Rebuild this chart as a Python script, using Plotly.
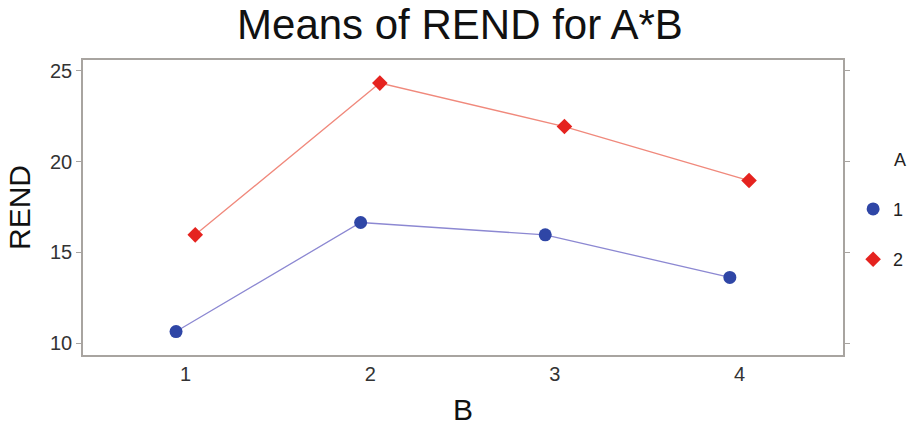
import plotly.graph_objects as go

# Data
B_levels = [1, 2, 3, 4]
A_levels = ["1", "2"]
rend_A1 = [10.65, 16.65, 15.97, 13.63]
rend_A2 = [15.97, 24.32, 21.93, 18.96]
y_ticks = [10, 15, 20, 25]

DODGE = 0.052
FONT = "Liberation Sans, Arial, sans-serif"

series = [
    dict(name=A_levels[0], y=rend_A1, off=-DODGE, mcolor="#2f46a6", lcolor="#8c88d2",
         symbol="circle", size=13, group="g1"),
    dict(name=A_levels[1], y=rend_A2, off=DODGE, mcolor="#e5231f", lcolor="#f0897c",
         symbol="diamond", size=12, group="g2"),
]

fig = go.Figure()
for s in series:
    xs = [b + s["off"] for b in B_levels]
    fig.add_trace(go.Scatter(
        x=xs, y=s["y"], mode="lines", line=dict(color=s["lcolor"], width=1.3),
        showlegend=False, hoverinfo="skip"))
    fig.add_trace(go.Scatter(
        x=xs, y=s["y"], mode="markers", name=s["name"], legendgroup=s["group"],
        marker=dict(color=s["mcolor"], symbol=s["symbol"], size=s["size"],
                    line=dict(width=0))))

fig.update_layout(
    width=909, height=426,
    margin=dict(l=83, r=66, t=60, b=71, autoexpand=False),
    paper_bgcolor="white", plot_bgcolor="white",
    font=dict(family=FONT, color="#222"),
    title=dict(text="Means of REND for A*B", font=dict(size=42, color="#111"),
               x=0.496, xref="paper", xanchor="center",
               y=0.942, yref="container", yanchor="middle"),
    xaxis=dict(range=[0.444, 4.561], tickvals=B_levels, ticktext=[str(b) for b in B_levels],
               showgrid=False, zeroline=False, showline=True, linecolor="#a8a4a0",
               linewidth=1.5, mirror=True, ticks="", automargin=False,
               tickfont=dict(size=20, color="#333"),
               title=dict(text="B", font=dict(size=30, color="#111"), standoff=18)),
    yaxis=dict(range=[9.36, 25.59], tickvals=y_ticks, showgrid=False, zeroline=False,
               showline=True, linecolor="#a8a4a0", linewidth=1.5, mirror="ticks",
               ticks="outside", ticklen=5, tickcolor="#a8a4a0", tickwidth=1,
               automargin=False,
               tickfont=dict(size=20, color="#333"),
               title=dict(text="REND", font=dict(size=30, color="#111"), standoff=11)),
    legend=dict(x=1.0133, xanchor="left", y=0.557, yanchor="top",
                traceorder="grouped", tracegroupgap=24,
                font=dict(size=18, color="#222"), bgcolor="rgba(0,0,0,0)"),
    annotations=[dict(text="A", xref="paper", yref="paper", x=1.0645, y=0.662,
                      xanchor="left", yanchor="middle", showarrow=False,
                      font=dict(size=18, color="#222"))],
)

fig.write_html("out.html", config={"displayModeBar": False},
               post_script="document.body.style.margin='0';")
